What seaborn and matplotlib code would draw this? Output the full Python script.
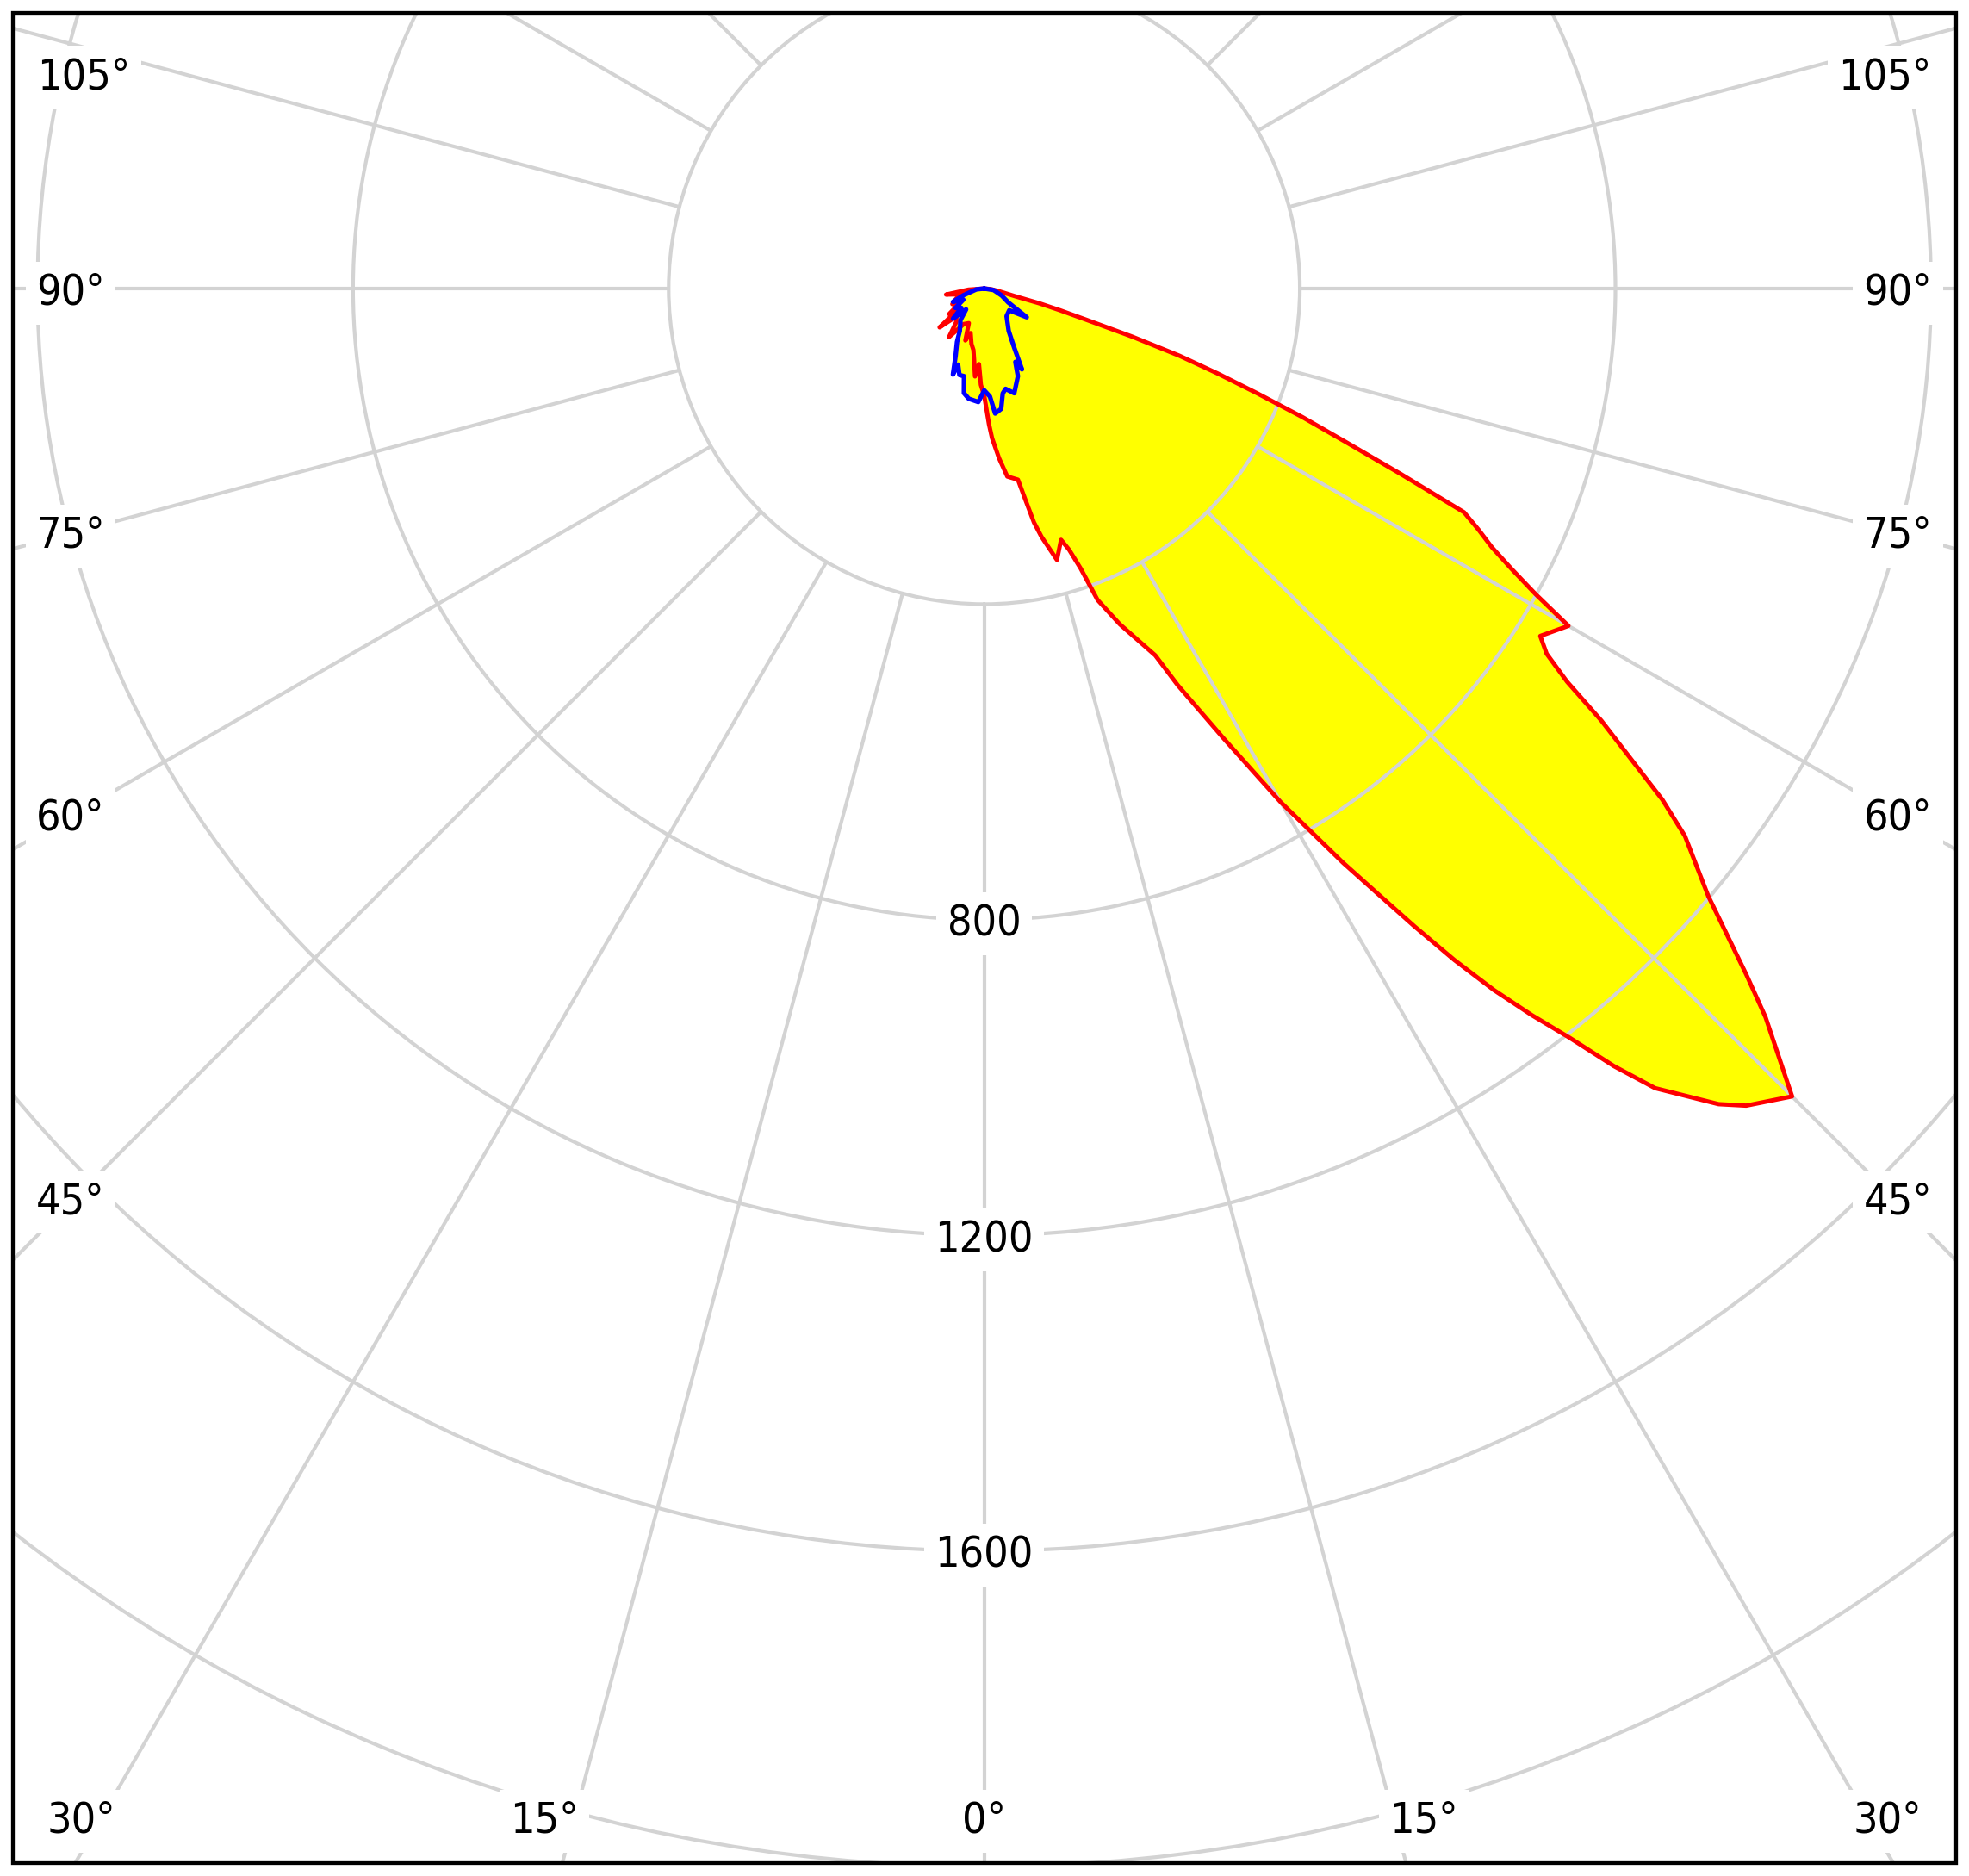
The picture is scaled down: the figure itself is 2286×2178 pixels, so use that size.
import numpy as np
import pandas as pd
import matplotlib
matplotlib.use("Agg")
import matplotlib.pyplot as plt
from matplotlib.patches import Rectangle
import seaborn as sns

# ---------------- data ----------------
grid_angles = list(range(0, 360, 15))          # radial grid lines (deg)
ring_values = [400, 800, 1200, 1600, 2000]     # circular grid (cd)
ring_labels = [800, 1200, 1600]                # labelled rings

# C0-C180 plane (red), signed angle from nadir (deg), intensity (cd)
red_angles = [-90, -86, -81, -76, -70, -64, -58, -54, -51, -49, -45, -40, -36,
              -30, -24, -20, -17, -13, -10, -8, -6, -4, -2,
              0, 2, 3, 5, 7, 10, 11, 12, 13, 15, 17, 18, 19, 20, 22, 25, 26,
              28, 30, 32, 33, 34, 35, 36, 37, 38, 39, 40, 42, 43, 45, 47, 48,
              50, 52, 53, 55, 56, 57, 58, 60, 61, 62, 63, 64, 65, 66, 67, 68,
              69, 70, 71, 72, 73, 74, 75, 76, 80, 85, 90]
red_values = [0, 20, 49, 30, 38, 45, 40, 55, 45, 75, 50, 55, 76,
              52, 48, 70, 59, 72, 79, 92, 112, 96, 122,
              136, 172, 190, 216, 240, 246, 272, 303, 323, 356, 333, 348, 375, 420, 459, 513, 559,
              645, 752, 858, 913, 975, 1039, 1099, 1153, 1205, 1268, 1323, 1391, 1416, 1448, 1354, 1300,
              1198, 1127, 1076, 955, 891, 850, 831, 855, 799, 757, 722, 697, 671, 578, 498, 435,
              371, 315, 262, 197, 135, 100, 72, 40, 18, 8, 0]

# C90-C270 plane (blue)
blue_angles = [-90, -84, -72, -67, -62, -56, -50, -46, -41, -37, -30, -27, -23,
               -20, -19, -16, -13, -11, -8, -3, 0, 3, 5, 8, 10, 12, 16, 21,
               23, 25, 27, 30, 39, 49, 56, 60, 68, 81, 90]
blue_values = [0, 10, 28, 43, 30, 44, 38, 55, 35, 50, 62, 76, 93,
               116, 102, 114, 114, 135, 141, 144, 129, 137, 159, 154, 135, 130, 138, 119,
               101, 113, 83, 62, 45, 42, 65, 35, 24, 12, 0]

side_labels = ["105°", "90°", "75°", "60°", "45°"]
bottom_labels = ["30°", "15°", "0°", "15°", "30°"]

# ---------------- layout (pixels) ----------------
W, H = 2286, 2178
CX, CY = 1142.7, 335.0          # pole position (from top-left)
PX_PER_CD = 0.916
RMAX = 2400
FRAME = (15, 15, 2271, 2163)    # left, top, right, bottom
side_pos_left = [(97, 84), (82, 335), (82, 617), (82, 944), (82, 1390)]
bottom_pos = [(94, 2109), (632, 2109), (1142, 2109), (1653, 2109), (2191, 2109)]

GRID_COLOR = "#d3d3d3"
FS = 36

sns.set_style("white")
plt.rcParams["font.family"] = ["DejaVu Sans"]
plt.rcParams["text.color"] = "black"

fig = plt.figure(figsize=(W / 100, H / 100), dpi=100)
fig.patch.set_facecolor("white")

R = RMAX * PX_PER_CD
rect = [(CX - R) / W, (H - CY - R) / H, 2 * R / W, 2 * R / H]
ax = fig.add_axes(rect, projection="polar")
ax.set_theta_zero_location("S")
ax.set_theta_direction(1)

df_red = pd.DataFrame({"theta": np.radians(red_angles), "cd": red_values})
df_blue = pd.DataFrame({"theta": np.radians(blue_angles), "cd": blue_values})

ax.fill(df_red["theta"], df_red["cd"], color="#ffff00", lw=0, zorder=1)
ax.fill(df_blue["theta"], df_blue["cd"], color="#ffff00", lw=0, zorder=1)

ax.vlines(np.radians(grid_angles), ring_values[0], RMAX, colors=GRID_COLOR,
          linewidth=3.0, zorder=2.5)

sns.lineplot(data=df_red, x="theta", y="cd", sort=False, estimator=None,
             ax=ax, color="#ff0000", linewidth=3.6, zorder=3)
sns.lineplot(data=df_blue, x="theta", y="cd", sort=False, estimator=None,
             ax=ax, color="#0000ff", linewidth=3.8, zorder=3.5)

ax.set_ylim(0, RMAX)
ax.set_xticks([])
ax.set_yticks(ring_values)
ax.set_yticklabels([])
ax.tick_params(length=0)
ax.yaxis.grid(True, color=GRID_COLOR, linewidth=3.0)
ax.set_axisbelow(False)
ax.spines["polar"].set_visible(False)
ax.set_xlabel("")
ax.set_ylabel("")

box = dict(facecolor="white", edgecolor="none", boxstyle="square,pad=0.25")
for v in ring_labels:
    ax.text(0, v, f"{v}", ha="center", va="center_baseline", fontsize=FS,
            color="black", fontstretch="condensed", bbox=box, zorder=5)

for lab, (x, y) in zip(side_labels, side_pos_left):
    fig.text(x / W, 1 - y / H, lab, ha="center", va="center_baseline",
             fontsize=FS, color="black", fontstretch="condensed", bbox=box, zorder=5)
    fig.text((2 * CX - x) / W, 1 - y / H, lab, ha="center", va="center_baseline",
             fontsize=FS, color="black", fontstretch="condensed", bbox=box, zorder=5)
for lab, (x, y) in zip(bottom_labels, bottom_pos):
    fig.text(x / W, 1 - y / H, lab, ha="center", va="center_baseline",
             fontsize=FS, color="black", fontstretch="condensed", bbox=box, zorder=5)

# white margins and frame
l, t, r, b = FRAME
for (x0, y0, x1, y1) in [(0, 0, l, H), (r, 0, W, H), (0, 0, W, t), (0, b, W, H)]:
    fig.add_artist(Rectangle((x0 / W, 1 - y1 / H), (x1 - x0) / W, (y1 - y0) / H,
                             transform=fig.transFigure, facecolor="white",
                             edgecolor="none", zorder=10))
fig.add_artist(Rectangle((l / W, 1 - b / H), (r - l) / W, (b - t) / H,
                         transform=fig.transFigure, fill=False,
                         edgecolor="black", linewidth=3.1, zorder=11))

fig.savefig("out.png", dpi=100, facecolor="white")
